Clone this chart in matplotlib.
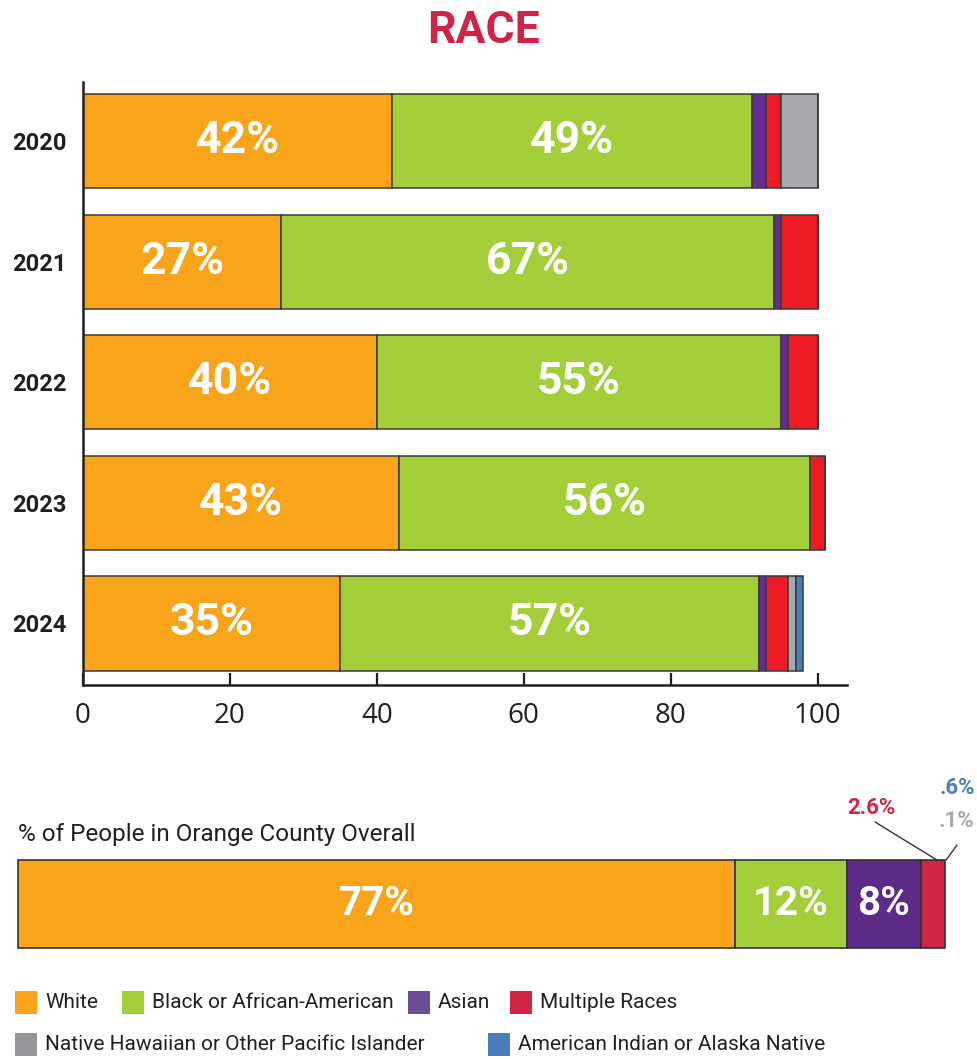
import matplotlib.pyplot as plt
from matplotlib.patches import Rectangle

# yearly breakdown (%)
years = ['2020', '2021', '2022', '2023', '2024']
white = [42, 27, 40, 43, 35]
black = [49, 67, 55, 56, 57]
asian = [2, 1, 1, 0, 1]
multiple = [2, 5, 4, 2, 3]
hawaiian = [5, 0, 0, 0, 1]
native = [0, 0, 0, 0, 1]

# county overall (%)
county_labels = ['White', 'Black', 'Asian', 'Multiple', 'Hawaiian', 'Native']
county_values = [77, 12, 8, 2.6, 0.1, 0.6]

legend_names = ['White', 'Black or African-American', 'Asian', 'Multiple Races',
                'Native Hawaiian or Other Pacific Islander', 'American Indian or Alaska Native']

c_white = '#F9A51B'
c_black = '#A4CE3A'
c_asian = '#662D91'
c_multi = '#ED1C24'
c_multi2 = '#D22444'
c_gray = '#A7A9AC'
c_blue = '#4A7EC0'
dark = '#231F20'

narrow = ['Roboto', 'DejaVu Sans']

W, H = 977, 1059
fig = plt.figure(figsize=(W / 100, H / 100), dpi=100)


def fx(px):
    return px / W


def fy(py):
    return 1 - py / H


fig.text(fx(483), fy(31), 'RACE', ha='center', va='center', fontsize=32,
         fontweight='bold', color='#D0234A', family=narrow)

# top chart
ax = fig.add_axes([fx(83), fy(685), fx(847) - fx(83), fy(82) - fy(685)])
ypos = list(range(len(years)))
groups = [white, black, asian, multiple, hawaiian, native]
colors = [c_white, c_black, c_asian, c_multi, c_gray, c_blue]
left = [0] * len(years)
for vals, col in zip(groups, colors):
    ax.barh(ypos, vals, left=left, height=0.78, color=col, edgecolor='#3a3a3a', linewidth=1.1)
    left = [l + v for l, v in zip(left, vals)]

for i in ypos:
    ax.text(white[i] / 2, i, f'{white[i]}%', ha='center', va='center', color='white',
            fontsize=32, fontweight='bold', family=narrow)
    ax.text(white[i] + black[i] / 2, i, f'{black[i]}%', ha='center', va='center', color='white',
            fontsize=32, fontweight='bold', family=narrow)

ax.set_xlim(0, 104)
ax.set_ylim(4.51, -0.49)
ax.set_yticks(ypos, years)
for lab in ax.get_yticklabels():
    lab.set_fontweight('bold')
    lab.set_fontsize(17)
    lab.set_family(narrow)
    lab.set_color(dark)
ax.tick_params(axis='y', length=0, pad=12)
ax.set_xticks(range(0, 101, 20))
ax.tick_params(axis='x', direction='in', length=9, width=1.6, labelsize=20, pad=12, colors=dark)
for lab in ax.get_xticklabels():
    lab.set_family('Open Sans')
for s in ['top', 'right']:
    ax.spines[s].set_visible(False)
for s in ['left', 'bottom']:
    ax.spines[s].set_linewidth(1.8)
    ax.spines[s].set_color(dark)

# county overall bar
fig.text(fx(18), fy(835), '% of People in Orange County Overall', ha='left', va='center',
         fontsize=17.5, color=dark, family=narrow)
ax2 = fig.add_axes([fx(18), fy(948), 100 * 9.31 / W, 88 / H])
ax2.set_xlim(0, 100)
ax2.set_ylim(-0.5, 0.5)
ax2.axis('off')
county_colors = [c_white, c_black, '#5E2A87', c_multi2]
start = 0
for v, col in zip(county_values[:4], county_colors):
    ax2.barh(0, v, left=start, height=1, color=col, edgecolor='#333333', linewidth=1.2, clip_on=False)
    start += v
start = 0
for v in county_values[:3]:
    ax2.text(start + v / 2, 0, f'{v}%', ha='center', va='center', color='white',
             fontsize=29, fontweight='bold', family=narrow)
    start += v

fig.text(fx(871), fy(808), f'{county_values[3]}%', ha='center', va='center', color=c_multi2,
         fontsize=16, fontweight='bold', family=narrow)
fig.text(fx(957), fy(788), f'.{str(county_values[5]).split(".")[1]}%', ha='center', va='center',
         color=c_blue, fontsize=16, fontweight='bold', family=narrow)
fig.text(fx(957), fy(821), f'.{str(county_values[4]).split(".")[1]}%', ha='center', va='center',
         color=c_gray, fontsize=16, fontweight='bold', family=narrow)
ax2.annotate('', xy=(98.7, 0.5), xycoords='data', xytext=(fx(875), fy(822)),
             textcoords='figure fraction',
             arrowprops=dict(arrowstyle='-', color='#333333', lw=1, shrinkA=0, shrinkB=0))
ax2.annotate('', xy=(99.7, 0.5), xycoords='data', xytext=(fx(957), fy(845)),
             textcoords='figure fraction',
             arrowprops=dict(arrowstyle='-', color='#333333', lw=1, shrinkA=0, shrinkB=0))

# legend
legend_colors = [c_white, c_black, '#6A4C93', c_multi2, '#939598', c_blue]
legend_pos = [(15, 1003), (122, 1003), (408, 1003), (510, 1003), (15, 1045), (488, 1045)]
for name, col, (px, py) in zip(legend_names, legend_colors, legend_pos):
    fig.patches.append(Rectangle((fx(px), fy(py + 11)), 22 / W, 23 / H, transform=fig.transFigure,
                                 facecolor=col, edgecolor='none'))
    fig.text(fx(px + 30), fy(py), name, ha='left', va='center', fontsize=15, color=dark,
             family=narrow)

fig.savefig('out.png', dpi=100)
